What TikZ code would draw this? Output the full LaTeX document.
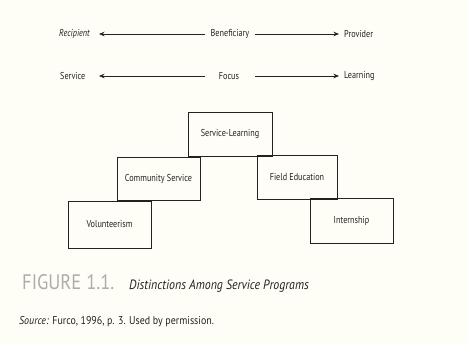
\documentclass[tikz,border=0pt]{standalone}
\usepackage{fontspec}
\setmainfont{PT Sans}
\newfontfamily\condA[FakeStretch=0.82]{PT Sans}
\newfontfamily\condB[FakeStretch=0.88]{PT Sans}
\usetikzlibrary{arrows.meta}
\definecolor{bg}{HTML}{FFFEF6}
\definecolor{figgray}{HTML}{ACACAC}
\definecolor{ink}{HTML}{222222}
\begin{document}
\begin{tikzpicture}[x=1pt,y=-1pt,
  lbl/.style={inner sep=0pt,text=ink,font=\condA\fontsize{10}{12}\selectfont},
  box/.style={draw=ink,line width=0.7pt,inner sep=0pt,text=ink,font=\condA\fontsize{10}{12}\selectfont},
  arr/.style={draw=ink,line width=0.7pt,-{Stealth[length=5.5pt,width=4.5pt]}}]
\fill[bg] (0,0) rectangle (468,343);
\useasboundingbox (0,0) rectangle (468,343);
% row 1
\node[lbl,anchor=west] (rec) at (59,34) {\itshape Recipient};
\node[lbl] (ben) at (230,34) {Beneficiary};
\node[lbl,anchor=west] (pro) at (344,34) {Provider};
\coordinate (b1) at (205,34);
\coordinate (b1t) at (99,34);
\coordinate (b2) at (255,34);
\coordinate (b2t) at (339,34);
\draw[arr] (b1) -- (b1t);
\draw[arr] (b2) -- (b2t);
% row 2
\node[lbl,anchor=west] (ser) at (60,76) {Service};
\node[lbl] (foc) at (229,76) {Focus};
\node[lbl,anchor=west] (lea) at (344,76) {Learning};
\coordinate (f1) at (205,76);
\coordinate (f1t) at (99,76);
\coordinate (f2) at (255,76);
\coordinate (f2t) at (339,76);
\draw[arr] (f1) -- (f1t);
\draw[arr] (f2) -- (f2t);
% boxes
\node[box,minimum width=84pt,minimum height=44pt] (sl) at (230,134) {Service-Learning};
\node[box,minimum width=83pt,minimum height=43pt] (cs) at (158.5,178.5) {Community Service};
\node[box,minimum width=83pt,minimum height=47pt] (vo) at (109.5,224.5) {Volunteerism};
\node[box,minimum width=80pt,minimum height=44pt] (fe) at (297,177) {Field Education};
\node[box,minimum width=83pt,minimum height=45pt] (in) at (351.5,220.5) {Internship};
% caption
\node[inner sep=0pt,anchor=base west,text=figgray,font=\condB\fontsize{21}{23}\selectfont] (fig) at (22,289) {FIGURE 1.1.};
\node[inner sep=0pt,anchor=base west,text=ink,font=\condB\fontsize{13.5}{15}\selectfont\itshape] (cap) at (129,289) {Distinctions Among Service Programs};
\node[inner sep=0pt,anchor=base west,text=ink,font=\condB\fontsize{11.3}{13}\selectfont] (src) at (19,324) {\textit{Source:} Furco, 1996, p. 3. Used by permission.};
\end{tikzpicture}
\end{document}
